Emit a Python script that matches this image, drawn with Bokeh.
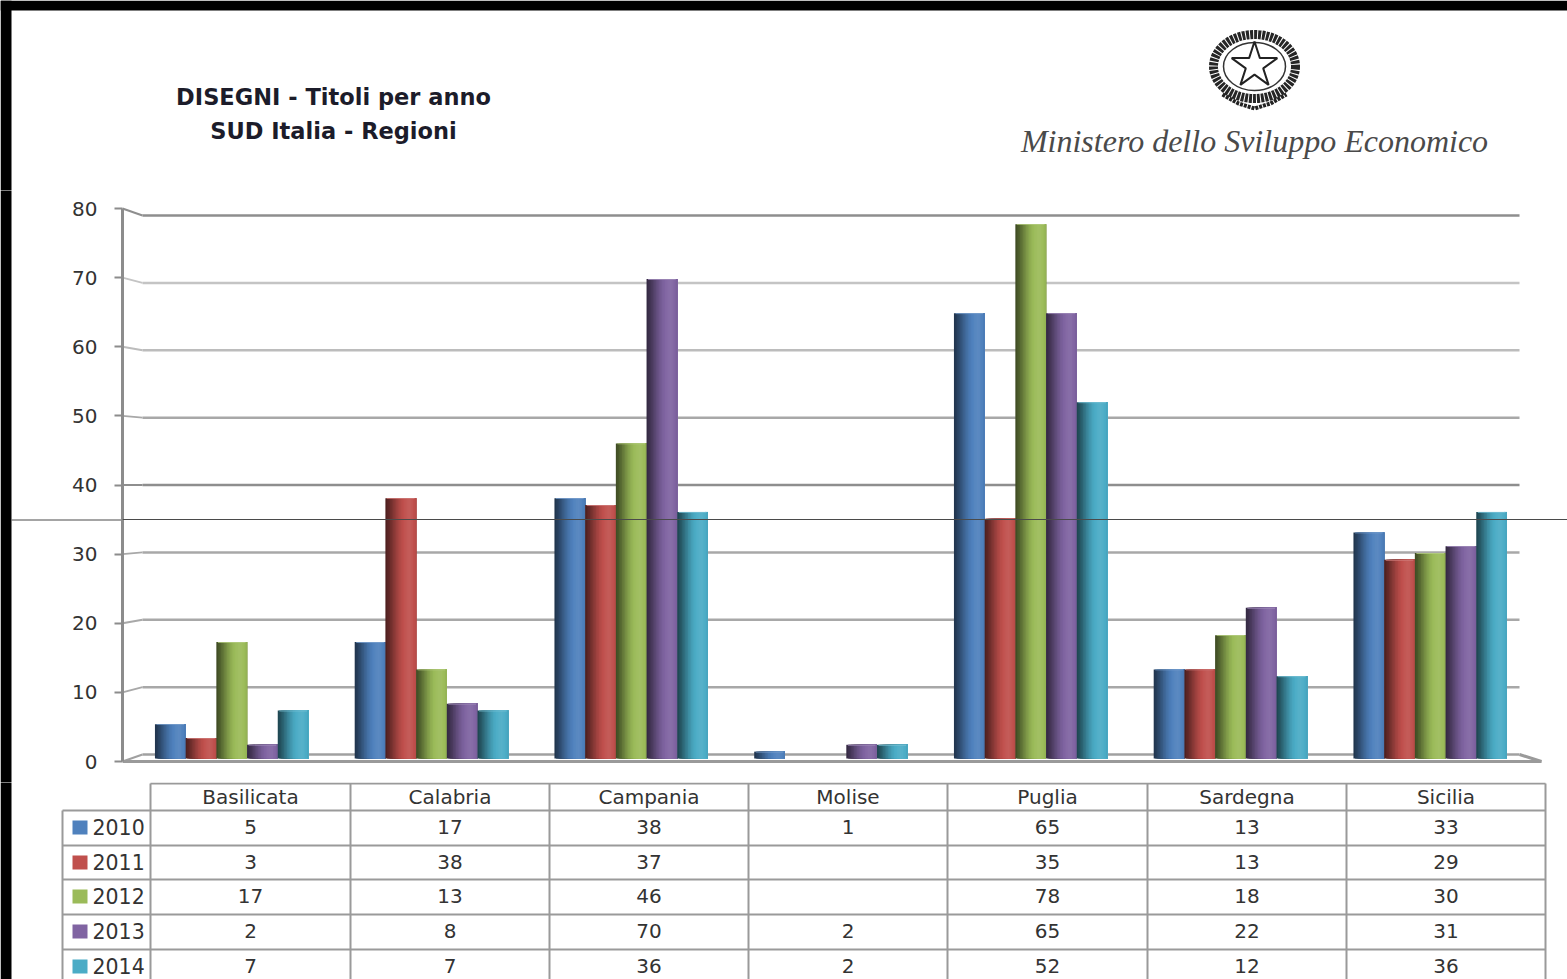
from bokeh.core.properties import value
from bokeh.embed import file_html
from bokeh.layouts import column, row
from bokeh.models import FixedTicker, LinearAxis, Range1d, Span
from bokeh.plotting import figure
from bokeh.resources import INLINE

# Design titles per year, southern Italian regions
REGIONS = ["Basilicata", "Calabria", "Campania", "Molise", "Puglia", "Sardegna", "Sicilia"]
YEARS = ["2010", "2011", "2012", "2013", "2014"]
VALUES_2010 = [5, 17, 38, 1, 65, 13, 33]
VALUES_2011 = [3, 38, 37, None, 35, 13, 29]
VALUES_2012 = [17, 13, 46, None, 78, 18, 30]
VALUES_2013 = [2, 8, 70, 2, 65, 22, 31]
VALUES_2014 = [7, 7, 36, 2, 52, 12, 36]
SERIES = [VALUES_2010, VALUES_2011, VALUES_2012, VALUES_2013, VALUES_2014]
COLORS = ["#4f81bd", "#c0504d", "#9bbb59", "#8064a2", "#4bacc6"]
AXIS_TICKS = [0, 10, 20, 30, 40, 50, 60, 70, 80]
GRID_COLORS = ["#a0a0a0", "#a8a8a8", "#a8a8a8", "#a8a8a8", "#8e8e8e", "#a8a8a8", "#bcbcbc", "#c4c4c4", "#8e8e8e"]
TITLE_LINES = ["DISEGNI - Titoli per anno", "SUD Italia - Regioni"]
MINISTRY = "Ministero dello Sviluppo Economico"

PAGE_W, PAGE_H = 1567, 979
HEADER_H, CHART_H = 190, 592
BAND = 11
BLEED = 4
TEXT = "#333333"
RULE = "#9a9a9a"
FONT = value("DejaVu Sans")


def mix(color, factor):
    """Darken (factor < 1) or lighten (factor > 1) a hex colour."""
    rgb = [int(color[i:i + 2], 16) for i in (1, 3, 5)]
    if factor <= 1:
        out = [int(c * factor) for c in rgb]
    else:
        out = [int(c + (255 - c) * (factor - 1)) for c in rgb]
    return "#%02x%02x%02x" % tuple(out)


def plain_figure(width, height, x_range, y_range, **kwargs):
    fig = figure(width=width, height=height, x_range=x_range, y_range=y_range,
                 output_backend="svg", toolbar_location=None,
                 x_axis_location=None, y_axis_location=None,
                 min_border=0, outline_line_color=None, **kwargs)
    fig.grid.visible = False
    return fig


# ---- header: black edge, title, ministry emblem and name ----
header = plain_figure(PAGE_W, HEADER_H, Range1d(0, PAGE_W), Range1d(HEADER_H, 0))
header.quad(left=0, right=PAGE_W, top=0, bottom=10, fill_color="black", line_color=None)
header.quad(left=0, right=BAND, top=0, bottom=HEADER_H + BLEED, fill_color="black", line_color=None)
header.text(x=[333, 333], y=[96, 130], text=TITLE_LINES, text_font=FONT, text_font_style="bold",
            text_font_size="22.5px", text_align="center", text_baseline="middle", text_color="#1c1c2a")

# Emblem: wreath, inner ring, star and ribbon
header.ellipse(x=[1254], y=[66], width=[82], height=[64], fill_color=None, line_color="#262626",
               line_width=9, line_dash="3 1")
header.ellipse(x=[1254], y=[66], width=[62], height=[48], fill_color=None, line_color="#333333",
               line_width=1.5)
header.scatter(x=[1254], y=[65], size=48, marker="star", fill_color="white", line_color="#222222",
               line_width=2)
header.line(x=[1222, 1238, 1254, 1270, 1286], y=[94, 103, 108, 103, 94], line_color="#222222",
            line_width=4, line_dash="3 1")
header.text(x=[1254], y=[140], text=[MINISTRY], text_font=value("Liberation Serif"),
            text_font_style="italic", text_font_size="32px", text_align="center",
            text_baseline="middle", text_color="#4a4a4a")

# ---- chart: front axis scale sets the main range, walls and bars have their own depth ----
FRONT_ZERO, FRONT_TOP = 761 - HEADER_H, 208 - HEADER_H
front_unit = (FRONT_ZERO - FRONT_TOP) / 80
BAR_ZERO, BAR_UNIT = 758 - HEADER_H, 6.85
WALL_ZERO, WALL_UNIT = 754 - HEADER_H, 6.7375

GROUP_STEP = 199.75
FIRST_CENTER = 231.2
AXIS_X = 122

chart_x = Range1d((AXIS_X - FIRST_CENTER) / GROUP_STEP, (PAGE_W - FIRST_CENTER) / GROUP_STEP)
chart_y = Range1d(-(CHART_H - FRONT_ZERO) / front_unit, FRONT_ZERO / front_unit)
chart = figure(width=PAGE_W - BAND, height=CHART_H, x_range=chart_x, y_range=chart_y,
               output_backend="svg", toolbar_location=None, x_axis_location=None,
               y_axis_location=None, min_border=0, min_border_left=AXIS_X - BAND,
               outline_line_color=None, border_fill_alpha=0, margin=(0, 0, 0, BAND - AXIS_X))
chart.grid.visible = False
chart.extra_y_ranges["bars"] = Range1d(-(CHART_H - BAR_ZERO) / BAR_UNIT, BAR_ZERO / BAR_UNIT)

axis = LinearAxis(ticker=FixedTicker(ticks=AXIS_TICKS), bounds=(0, 80))
axis.axis_line_color = "#8c8c8c"
axis.axis_line_width = 3
axis.major_tick_line_color = "#8c8c8c"
axis.major_tick_line_width = 2
axis.major_tick_out = 8
axis.major_tick_in = 0
axis.minor_tick_line_color = None
axis.major_label_standoff = 17
axis.major_label_text_font = "DejaVu Sans"
axis.major_label_text_font_size = "20px"
axis.major_label_text_color = TEXT
chart.add_layout(axis, "left")


def to_x(px):
    return (px - FIRST_CENTER) / GROUP_STEP


def wall_y(v):
    return (FRONT_ZERO - (WALL_ZERO - v * WALL_UNIT)) / front_unit


# Back wall gridlines with their slanted side-wall stubs
wall_left, wall_right = to_x(142), to_x(1519)
grid_ticks = AXIS_TICKS
chart.segment(x0=[wall_left] * len(grid_ticks), x1=[wall_right] * len(grid_ticks),
              y0=[wall_y(v) for v in grid_ticks], y1=[wall_y(v) for v in grid_ticks],
              line_color=GRID_COLORS, line_width=2.5)
chart.segment(x0=[to_x(AXIS_X)] * len(grid_ticks), x1=[wall_left] * len(grid_ticks),
              y0=grid_ticks, y1=[wall_y(v) for v in grid_ticks],
              line_color=GRID_COLORS, line_width=2)

# Floor front edge and right corner
chart.line(x=[to_x(AXIS_X), to_x(1541), wall_right], y=[0, 0, wall_y(0)],
           line_color="#9a9a9a", line_width=3)

# Cylinder-like bars: overlapping strips painted left to right, dark at the left edge
BAR_WIDTH = 30.7 / GROUP_STEP
SHADES = [0.42, 0.47, 0.52, 0.58, 0.64, 0.7, 0.76, 0.82, 0.87, 0.92, 0.96, 0.99,
          1.02, 1.04, 1.06, 1.07, 1.06, 1.03, 1.0, 0.96]
strip = BAR_WIDTH / len(SHADES)
for j, (vals, color) in enumerate(zip(SERIES, COLORS)):
    xs = [i for i, v in enumerate(vals) if v is not None]
    tops = [vals[i] for i in xs]
    left_edges = [i + (j - 2.5) * BAR_WIDTH for i in xs]
    right_edges = [e + BAR_WIDTH for e in left_edges]
    for k, shade in enumerate(SHADES):
        chart.quad(left=[e + k * strip for e in left_edges], right=right_edges, top=tops,
                   bottom=[0] * len(tops), fill_color=mix(color, shade), line_color=None,
                   y_range_name="bars")
    chart.quad(left=[e + strip for e in left_edges], right=[r - strip for r in right_edges], top=tops,
               bottom=[t - 0.12 for t in tops], fill_color=mix(color, 1.25), line_color=None,
               y_range_name="bars")

# Thin dark scan line running across the page; the strip under the axis panel holds its left part
SCAN_PX = 519 - HEADER_H
scan_value = (FRONT_ZERO - SCAN_PX) / front_unit
chart.add_layout(Span(location=scan_value, dimension="width", line_color="#4a4a4a", line_width=1))

band = plain_figure(AXIS_X, CHART_H, Range1d(0, AXIS_X), Range1d(CHART_H, 0))
band.quad(left=0, right=BAND, top=-BLEED, bottom=CHART_H + BLEED, fill_color="black", line_color=None)
band.segment(x0=[BAND], x1=[AXIS_X], y0=[SCAN_PX + 0.5], y1=[SCAN_PX + 0.5], line_color="#4a4a4a", line_width=1)

# ---- data table below the chart, laid out in page pixels ----
table_top = HEADER_H + CHART_H
table = plain_figure(PAGE_W, PAGE_H - table_top, Range1d(0, PAGE_W), Range1d(PAGE_H, table_top))
table.quad(left=0, right=BAND, top=table_top - BLEED, bottom=PAGE_H, fill_color="black", line_color=None)

COL_EDGES = [150, 350, 549, 748, 947, 1147, 1346, 1545]
ROW_EDGES = [810, 845, 879, 914, 949]
ROW_CENTERS = [826, 861, 895, 930, 965]
table.segment(x0=[150], x1=[1545], y0=[783], y1=[783], line_color=RULE, line_width=2)
table.segment(x0=[62] * len(ROW_EDGES), x1=[1545] * len(ROW_EDGES), y0=ROW_EDGES, y1=ROW_EDGES,
              line_color=RULE, line_width=2)
table.segment(x0=COL_EDGES, x1=COL_EDGES, y0=[783] * len(COL_EDGES), y1=[PAGE_H] * len(COL_EDGES),
              line_color=RULE, line_width=2)
table.segment(x0=[62], x1=[62], y0=[810], y1=[PAGE_H], line_color=RULE, line_width=2)

col_centers = [(a + b) / 2 for a, b in zip(COL_EDGES[:-1], COL_EDGES[1:])]
table.text(x=col_centers, y=[796] * len(REGIONS), text=REGIONS, text_font=FONT, text_font_size="20px",
           text_align="center", text_baseline="middle", text_color=TEXT)
for vals, y, year, color in zip(SERIES, ROW_CENTERS, YEARS, COLORS):
    shown = [(c, str(v)) for c, v in zip(col_centers, vals) if v is not None]
    table.text(x=[c for c, _ in shown], y=[y] * len(shown), text=[s for _, s in shown], text_font=FONT,
               text_font_size="20px", text_align="center", text_baseline="middle", text_color=TEXT)
    table.quad(left=72, right=87, top=y - 6, bottom=y + 8, fill_color=color, line_color=None)
    table.text(x=[92], y=[y], text=[year], text_font=FONT, text_font_size="20.5px",
               text_align="left", text_baseline="middle", text_color=TEXT)

page = column(header, row(band, chart, spacing=0), table, spacing=0)
open("out.html", "w").write(file_html(page, INLINE))
